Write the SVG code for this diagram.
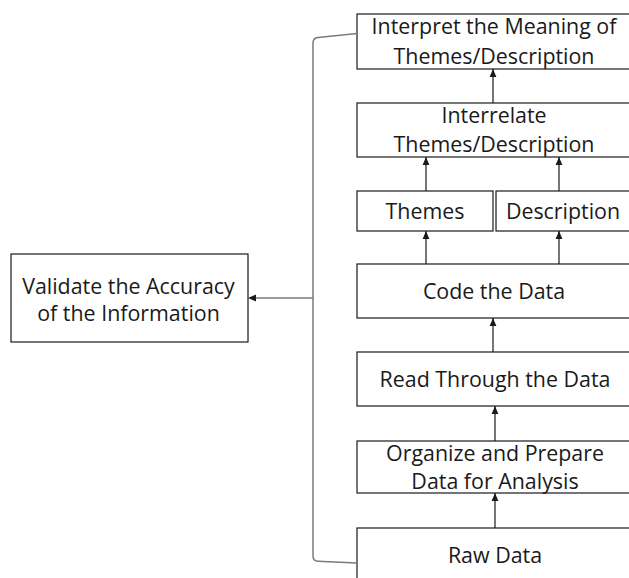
<svg xmlns="http://www.w3.org/2000/svg" width="629" height="578" viewBox="0 0 629 578">
  <style>
    .box { fill: #ffffff; stroke: #1a1a1a; stroke-width: 1.2; }
    .lbl { font-family: "Open Sans", "Noto Sans", "Liberation Sans", sans-serif; font-size: 21.4px; fill: #1a1a1a; text-anchor: middle; }
    .arrow { fill: none; stroke: #1a1a1a; stroke-width: 1.2; marker-end: url(#head); }
    .bracket { fill: none; stroke: #7a7a7a; stroke-width: 1.5; }
  </style>
  <defs>
    <marker id="head" viewBox="0 0 8 8" refX="8" refY="4" markerWidth="8" markerHeight="8" markerUnits="userSpaceOnUse" orient="auto">
      <path d="M0,0.6 L8,4 L0,7.4 Z" fill="#1a1a1a"/>
    </marker>
  </defs>
  <rect width="629" height="578" fill="#ffffff"/>

  <g id="interpret">
    <rect class="box" x="357" y="14" width="274" height="55"/>
    <text class="lbl" x="494" y="34">Interpret the Meaning of</text>
    <text class="lbl" x="494" y="63.5">Themes/Description</text>
  </g>
  <g id="interrelate">
    <rect class="box" x="357" y="103" width="274" height="54"/>
    <text class="lbl" x="494" y="123">Interrelate</text>
    <text class="lbl" x="494" y="152">Themes/Description</text>
  </g>
  <g id="themes">
    <rect class="box" x="357" y="191" width="136" height="40"/>
    <text class="lbl" x="425" y="218.5">Themes</text>
  </g>
  <g id="description">
    <rect class="box" x="496" y="191" width="135" height="40"/>
    <text class="lbl" x="563" y="218.5">Description</text>
  </g>
  <g id="code">
    <rect class="box" x="357" y="264" width="274" height="54"/>
    <text class="lbl" x="494" y="299">Code the Data</text>
  </g>
  <g id="read">
    <rect class="box" x="357" y="352" width="274" height="54"/>
    <text class="lbl" x="495" y="387">Read Through the Data</text>
  </g>
  <g id="organize">
    <rect class="box" x="357" y="441" width="274" height="52"/>
    <text class="lbl" x="495" y="460.5">Organize and Prepare</text>
    <text class="lbl" x="495" y="488.5">Data for Analysis</text>
  </g>
  <g id="raw">
    <rect class="box" x="357" y="528" width="274" height="60"/>
    <text class="lbl" x="495" y="563">Raw Data</text>
  </g>
  <g id="validate">
    <rect class="box" x="11" y="254" width="237" height="88"/>
    <text class="lbl" x="128.5" y="293.5">Validate the Accuracy</text>
    <text class="lbl" x="128.5" y="320.5">of the Information</text>
  </g>

  <g id="connectors">
    <path class="arrow" d="M493,103 V69"/>
    <path class="arrow" d="M426,191 V157"/>
    <path class="arrow" d="M559,191 V157"/>
    <path class="arrow" d="M426,264 V231"/>
    <path class="arrow" d="M559,264 V231"/>
    <path class="arrow" d="M493,352 V318"/>
    <path class="arrow" d="M495,441 V406"/>
    <path class="arrow" d="M495,528 V493"/>
    <path class="bracket" d="M357,33.5 L318,37.5 Q313,38 313,43 V556 Q313,561 318,561.3 L357,563"/>
    <path class="bracket" d="M313,298 H256"/>
    <path d="M248,298 L256,294.6 L256,301.4 Z" fill="#1a1a1a"/>
  </g>
</svg>
